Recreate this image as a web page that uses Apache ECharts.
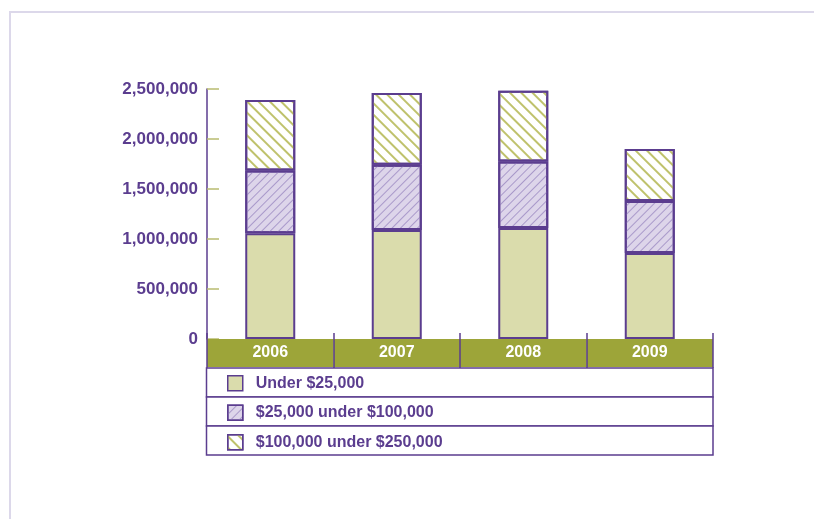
<!DOCTYPE html>
<html>
<head>
<meta charset="utf-8">
<script src="https://cdn.jsdelivr.net/npm/echarts@6/dist/echarts.min.js"></script>
<style>
html,body{margin:0;padding:0;background:#fff;}
#chart{width:814px;height:519px;}
</style>
</head>
<body>
<div id="chart"></div>
<script>
// ---- data ----
var years = ['2006', '2007', '2008', '2009'];
var seriesNames = ['Under $25,000', '$25,000 under $100,000', '$100,000 under $250,000'];
var under25k = [1058000, 1091000, 1111000, 861000];
var from25kTo100k = [627000, 651000, 664000, 520000];
var from100kTo250k = [704000, 717000, 707000, 518000];
var yTicks = [0, 500000, 1000000, 1500000, 2000000, 2500000];

// ---- styles ----
var PURPLE = '#5b3d8f';
var OLIVE = '#9da539';
var FONT = 'Liberation Sans, Arial, sans-serif';

var chart = echarts.init(document.getElementById('chart'), null, {renderer: 'canvas'});

function fmt(v) { return v.toString().replace(/\B(?=(\d{3})+(?!\d))/g, ','); }

var barBorder = {borderColor: PURPLE, borderWidth: 2};

var option = {
  animation: false,
  backgroundColor: '#fff',
  grid: {left: 207, right: 101, top: 89, bottom: 180, containLabel: false},
  legend: {
    orient: 'vertical',
    left: 227,
    top: 375,
    padding: 0,
    icon: 'rect',
    itemWidth: 15,
    itemHeight: 15,
    itemGap: 13,
    selectedMode: false,
    data: seriesNames,
    itemStyle: {borderColor: PURPLE, borderWidth: 1.5},
    textStyle: {color: PURPLE, fontSize: 16, fontWeight: 'bold', fontFamily: FONT, lineHeight: 15, padding: [0, 0, 0, 8]}
  },
  xAxis: [
    {
      type: 'category', data: years, boundaryGap: true,
      axisLine: {show: false}, axisTick: {show: false}, splitLine: {show: false},
      axisLabel: {
        interval: 0, margin: 0, color: '#ffffff', fontSize: 16, fontWeight: 'bold', fontFamily: FONT,
        backgroundColor: OLIVE, width: 126.5, height: 28, lineHeight: 28,
        align: 'center', padding: 0
      }
    },
    {
      type: 'category', data: years, boundaryGap: true, position: 'bottom', z: 5,
      axisLine: {show: false}, axisLabel: {show: false}, splitLine: {show: false},
      axisTick: {show: true, interval: 0, length: 29, lineStyle: {color: PURPLE, width: 1.5}}
    },
    {
      type: 'category', data: years, boundaryGap: true, position: 'bottom', z: 5,
      axisLine: {show: false}, axisLabel: {show: false}, splitLine: {show: false},
      axisTick: {show: true, inside: true, interval: 0, length: 6, lineStyle: {color: PURPLE, width: 1.5}}
    }
  ],
  yAxis: {
    type: 'value', min: yTicks[0], max: yTicks[yTicks.length - 1], interval: yTicks[1] - yTicks[0],
    axisLine: {show: true, lineStyle: {color: PURPLE, width: 1.5}},
    axisTick: {show: true, inside: true, length: 12, lineStyle: {color: '#b9bc70', width: 1.5}},
    splitLine: {show: false},
    axisLabel: {color: PURPLE, fontSize: 17, fontWeight: 'bold', fontFamily: FONT, margin: 9, formatter: fmt}
  },
  series: [
    {
      name: seriesNames[0], type: 'bar', stack: 'total', barWidth: 50, data: under25k,
      itemStyle: Object.assign({color: '#dadcac'}, barBorder)
    },
    {
      name: seriesNames[1], type: 'bar', stack: 'total', barWidth: 50, data: from25kTo100k,
      itemStyle: Object.assign({
        color: '#ddd5ea',
        decal: {symbol: 'rect', symbolSize: 1, dashArrayX: [1, 0], dashArrayY: [1, 5], rotation: -Math.PI / 4, color: '#a999ca'}
      }, barBorder)
    },
    {
      name: seriesNames[2], type: 'bar', stack: 'total', barWidth: 50, data: from100kTo250k,
      itemStyle: Object.assign({
        color: '#ffffff',
        decal: {symbol: 'rect', symbolSize: 1, dashArrayX: [1, 0], dashArrayY: [1.3, 5.2], rotation: Math.PI / 4, color: '#bfc26c'}
      }, barBorder)
    }
  ],
  graphic: [
    {type: 'polyline', z: -1, shape: {points: [[10, 519], [10, 12], [814, 12]]}, style: {stroke: '#dcd8ea', lineWidth: 2, fill: null}},
    {type: 'rect', z: 0, shape: {x: 206.5, y: 368, width: 506.5, height: 29}, style: {stroke: PURPLE, lineWidth: 1.5, fill: '#fff'}},
    {type: 'rect', z: 0, shape: {x: 206.5, y: 397, width: 506.5, height: 29}, style: {stroke: PURPLE, lineWidth: 1.5, fill: '#fff'}},
    {type: 'rect', z: 0, shape: {x: 206.5, y: 426, width: 506.5, height: 29}, style: {stroke: PURPLE, lineWidth: 1.5, fill: '#fff'}}
  ]
};
chart.setOption(option);
</script>
</body>
</html>
